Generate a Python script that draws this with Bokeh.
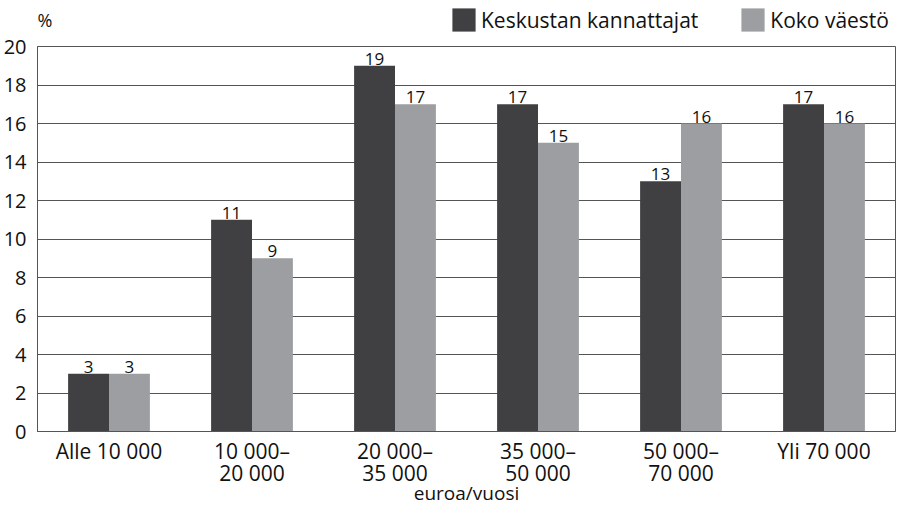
from bokeh.plotting import figure
from bokeh.models import ColumnDataSource, Range1d, Legend, LegendItem, FixedTicker, LinearAxis, Label
from bokeh.layouts import column
from bokeh.core.properties import value
from bokeh.embed import file_html
from bokeh.resources import INLINE

categories = ["Alle 10 000", "10 000–\n20 000", "20 000–\n35 000", "35 000–\n50 000", "50 000–\n70 000", "Yli 70 000"]
keskusta = [3, 11, 19, 17, 13, 17]
koko = [3, 9, 17, 15, 16, 16]
series_names = ["Keskustan kannattajat", "Koko väestö"]
y_ticks = [0, 2, 4, 6, 8, 10, 12, 14, 16, 18, 20]

FONT = "Open Sans"
DARK = "#404042"
LIGHT = "#9d9ea1"
GRID = "#555555"
TXT = "#111111"

W = 896
HEAD_H = 36
MAIN_H = 472

n = len(categories)
centers = [i + 0.5 for i in range(n)]
bw = 0.286

src = ColumnDataSource(dict(xk=[c - bw / 2 for c in centers], xv=[c + bw / 2 for c in centers],
                            k=keskusta, v=koko,
                            kl=[str(x) for x in keskusta], vl=[str(x) for x in koko]))

# ---------- header strip: unit label and legend ----------
# its y range lies above the data, so the bars used for the legend swatches are not drawn
head = figure(width=W, height=HEAD_H, x_range=Range1d(0, W), y_range=Range1d(100, 100 + HEAD_H),
              output_backend="svg", toolbar_location=None, title=None,
              x_axis_location=None, y_axis_location=None,
              min_border_left=0, min_border_right=0, min_border_top=0, min_border_bottom=0)
head.xgrid.grid_line_color = None
head.ygrid.grid_line_color = None
head.outline_line_color = None
h1 = head.vbar(x="xk", top="k", width=bw, source=src, fill_color=DARK, line_color=None)
h2 = head.vbar(x="xv", top="v", width=bw, source=src, fill_color=LIGHT, line_color=None)
head.add_layout(Label(x=0, y=105, text="%", text_font=FONT, text_font_size="18px",
                      text_color=TXT, text_baseline="bottom", text_align="left"))
legend = Legend(items=[LegendItem(label=series_names[0], renderers=[h1]),
                       LegendItem(label=series_names[1], renderers=[h2])],
                orientation="horizontal", location=(412, 2),
                glyph_width=29, glyph_height=29, label_text_font=FONT,
                label_text_font_size="21px", label_text_color=TXT,
                spacing=40, padding=0, margin=0, label_standoff=3,
                border_line_color=None, background_fill_alpha=0)
head.add_layout(legend, "center")

# ---------- main chart ----------
p = figure(width=W, height=MAIN_H, x_range=Range1d(0, n), y_range=Range1d(0, 20),
           output_backend="svg", toolbar_location=None, title=None,
           min_border_left=28, min_border_right=1, min_border_top=10, min_border_bottom=0)

r1 = p.vbar(x="xk", top="k", width=bw, source=src, fill_color=DARK, line_color=None)
r2 = p.vbar(x="xv", top="v", width=bw, source=src, fill_color=LIGHT, line_color=None)

for xc, col, lab in (("xk", "k", "kl"), ("xv", "v", "vl")):
    p.text(x=xc, y=col, text=lab, source=src,
           text_align="center", text_baseline="bottom", y_offset=-1,
           text_font=value(FONT), text_font_size="17px", text_color=TXT)

p.xgrid.grid_line_color = None
p.ygrid.grid_line_color = GRID
p.ygrid.grid_line_width = 1
p.ygrid.ticker = FixedTicker(ticks=y_ticks)
p.yaxis.ticker = FixedTicker(ticks=y_ticks)
p.outline_line_color = GRID
p.outline_line_width = 1

# second line of the x tick labels on an extra axis
ax2 = LinearAxis()
p.add_layout(ax2, "below")

def style(ax):
    ax.major_tick_line_color = None
    ax.minor_tick_line_color = None
    ax.major_label_text_font = FONT
    ax.major_label_text_font_size = "21px"
    ax.major_label_text_color = TXT
    ax.axis_label_text_font = FONT
    ax.axis_label_text_font_size = "19px"
    ax.axis_label_text_font_style = "normal"
    ax.axis_label_text_color = TXT

x1 = p.xaxis[0]
for ax in (x1, ax2, p.yaxis[0]):
    style(ax)
p.yaxis.major_label_text_font_size = "20px"
p.yaxis.axis_line_color = GRID
x1.axis_line_color = GRID
ax2.axis_line_color = None

x1.ticker = FixedTicker(ticks=centers)
ax2.ticker = FixedTicker(ticks=centers)
x1.major_label_overrides = {c: lab.split("\n")[0] for c, lab in zip(centers, categories)}
ax2.major_label_overrides = {c: (lab.split("\n")[1] if "\n" in lab else "") for c, lab in zip(centers, categories)}
x1.major_label_standoff = -1
ax2.major_label_standoff = -15
ax2.axis_label = "euroa/vuosi"
ax2.axis_label_standoff = -10

p.yaxis.major_label_standoff = 5

layout = column(head, p, spacing=0)
open("out.html", "w").write(file_html(layout, INLINE))
